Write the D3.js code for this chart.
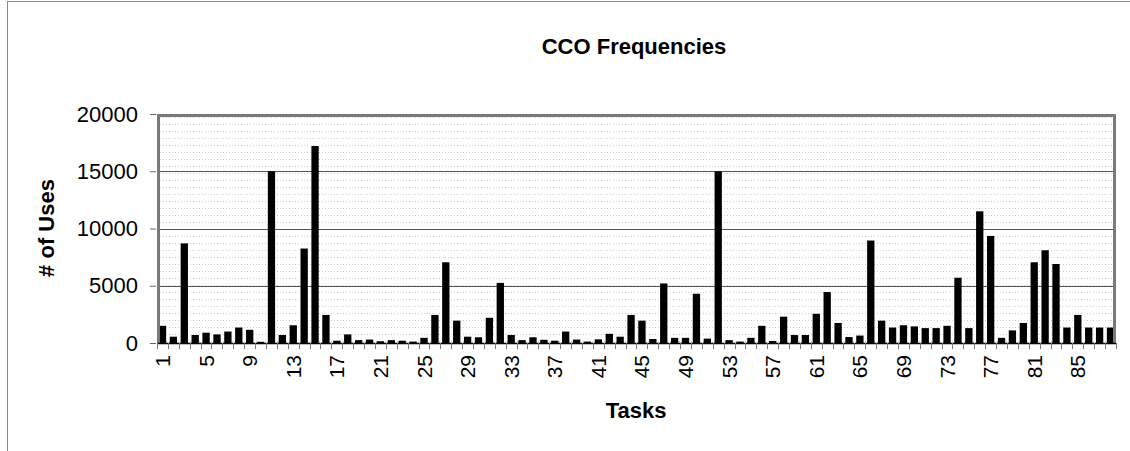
<!DOCTYPE html>
<html>
<head>
<meta charset="utf-8">
<script src="https://cdn.jsdelivr.net/npm/d3@7"></script>
<style>
  body { margin: 0; background: #fff; }
  text { font-family: "Liberation Sans", Arial, sans-serif; }
</style>
</head>
<body>
<div id="chart"></div>
<script>
// task numbers 1..88
const tasks = ["1","2","3","4","5","6","7","8","9","10","11","12","13","14","15","16","17","18","19","20",
  "21","22","23","24","25","26","27","28","29","30","31","32","33","34","35","36","37","38","39","40",
  "41","42","43","44","45","46","47","48","49","50","51","52","53","54","55","56","57","58","59","60",
  "61","62","63","64","65","66","67","68","69","70","71","72","73","74","75","76","77","78","79","80",
  "81","82","83","84","85","86","87","88"];

// number of uses
const uses = [1500, 550, 8700, 700, 900, 750, 1000, 1350, 1150, 100,
  15000, 700, 1550, 8250, 17200, 2450, 200, 750, 250, 300,
  150, 250, 200, 120, 450, 2450, 7050, 1950, 550, 500,
  2200, 5250, 700, 250, 500, 280, 200, 1000, 300, 120,
  320, 800, 550, 2450, 1950, 350, 5200, 450, 450, 4300,
  380, 15000, 250, 120, 450, 1500, 180, 2300, 700, 700,
  2550, 4450, 1750, 520, 650, 8950, 1950, 1350, 1550, 1450,
  1300, 1300, 1500, 5700, 1300, 11500, 9350, 450, 1100, 1750,
  7050, 8100, 6900, 1350, 2450, 1350, 1350, 1350];

const xTickLabels = tasks.filter(function (d, i) { return i % 4 === 0; });
const yTicks = [0, 5000, 10000, 15000, 20000];

const W = 1130, H = 451;
const margin = {top: 114, right: 14, bottom: 108, left: 157},
    width = W - margin.left - margin.right,
    height = H - margin.top - margin.bottom;

const svg = d3.select("#chart")
    .append("svg")
    .attr("width", W)
    .attr("height", H);

// outer chart frame (only top and left edges are visible)
svg.append("line").attr("x1", 7).attr("y1", 1.5).attr("x2", W).attr("y2", 1.5)
    .attr("stroke", "#888").attr("stroke-width", 1);
svg.append("line").attr("x1", 7.5).attr("y1", 1).attr("x2", 7.5).attr("y2", H)
    .attr("stroke", "#888").attr("stroke-width", 1);

// faint dotted texture for the plot area
const defs = svg.append("defs");
const pat = defs.append("pattern")
    .attr("id", "tex")
    .attr("patternUnits", "userSpaceOnUse")
    .attr("width", 6).attr("height", 7);
pat.append("rect").attr("x", 0).attr("y", 3).attr("width", 1).attr("height", 1).attr("fill", "#c4c4c4");
pat.append("rect").attr("x", 3).attr("y", 3).attr("width", 1).attr("height", 1).attr("fill", "#d6d6d6");

const g = svg.append("g")
    .attr("transform", "translate(" + margin.left + "," + margin.top + ")");

const x = d3.scaleBand()
    .domain(tasks)
    .range([0, width])
    .paddingInner(0.33)
    .paddingOuter(0.17);

const y = d3.scaleLinear()
    .domain([0, 20000])
    .range([height, 0]);

g.append("rect")
    .attr("width", width).attr("height", height)
    .attr("fill", "url(#tex)");

// gridlines
g.selectAll(".grid")
    .data(yTicks.filter(function (d) { return d > 0 && d < 20000; }))
    .join("line")
    .attr("class", "grid")
    .attr("x1", 0).attr("x2", width)
    .attr("y1", function (d) { return Math.round(y(d)) + 0.5; })
    .attr("y2", function (d) { return Math.round(y(d)) + 0.5; })
    .attr("stroke", "#555").attr("stroke-width", 1);

// bars
g.selectAll(".bar")
    .data(uses)
    .join("rect")
    .attr("class", "bar")
    .attr("x", function (d, i) { return x(tasks[i]); })
    .attr("width", x.bandwidth())
    .attr("y", function (d) { return y(d); })
    .attr("height", function (d) { return height - y(d); })
    .attr("fill", "#000");

// plot border: thick grey on top, left, right
g.append("path")
    .attr("d", "M1.5," + height + "V1.5H" + (width - 1.5) + "V" + height)
    .attr("fill", "none")
    .attr("stroke", "#7a7a7a")
    .attr("stroke-width", 3);

// y axis
const yAxis = g.append("g")
    .attr("transform", "translate(-1,0)")
    .call(d3.axisLeft(y).tickValues(yTicks).tickSize(6).tickPadding(12).tickFormat(d3.format("d")));
yAxis.select(".domain").remove();
yAxis.selectAll(".tick line").attr("stroke", "#666");
yAxis.selectAll("text")
    .attr("font-size", "22px")
    .attr("fill", "#000")
    .attr("font-family", "'Liberation Sans', Arial, sans-serif");

// x axis: ticks at category boundaries
const step = x.step();
g.append("line")
    .attr("x1", 0).attr("x2", width)
    .attr("y1", height + 0.5).attr("y2", height + 0.5)
    .attr("stroke", "#000").attr("stroke-width", 1.5);
g.selectAll(".xtick")
    .data(d3.range(tasks.length + 1))
    .join("line")
    .attr("class", "xtick")
    .attr("x1", function (d) { return Math.round(d * step) + 0.5; })
    .attr("x2", function (d) { return Math.round(d * step) + 0.5; })
    .attr("y1", height).attr("y2", height + 6)
    .attr("stroke", "#777");

g.selectAll(".xlabel")
    .data(xTickLabels)
    .join("text")
    .attr("class", "xlabel")
    .attr("transform", function (d) {
        return "translate(" + (x(d) + x.bandwidth() / 2 + 7.5) + "," + (height + 12) + ") rotate(-90)";
    })
    .attr("text-anchor", "end")
    .attr("font-size", "21px")
    .text(function (d) { return d; });

// titles
svg.append("text")
    .attr("x", 634).attr("y", 54)
    .attr("text-anchor", "middle")
    .attr("font-size", "22px")
    .attr("font-weight", "bold")
    .text("CCO Frequencies");

svg.append("text")
    .attr("x", 636).attr("y", 418)
    .attr("text-anchor", "middle")
    .attr("font-size", "22px")
    .attr("font-weight", "bold")
    .text("Tasks");

svg.append("text")
    .attr("transform", "translate(54,228) rotate(-90)")
    .attr("text-anchor", "middle")
    .attr("font-size", "22px")
    .attr("font-weight", "bold")
    .text("# of Uses");
</script>
</body>
</html>
